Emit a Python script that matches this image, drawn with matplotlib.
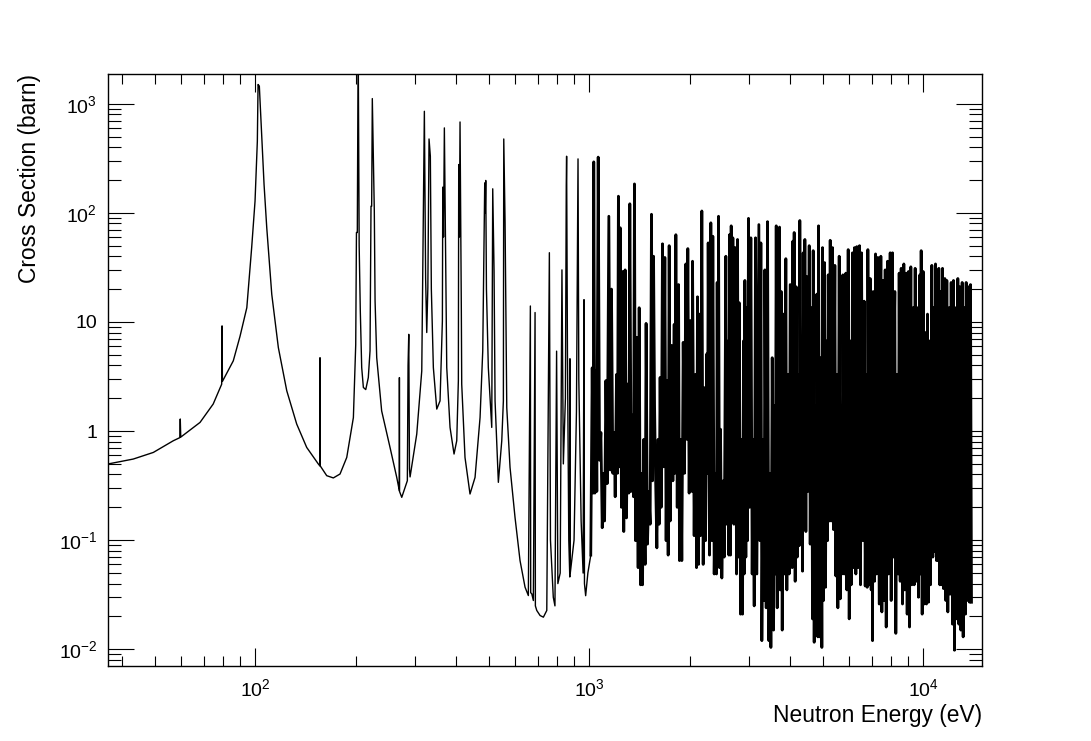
import matplotlib
matplotlib.use("Agg")
import matplotlib.pyplot as plt
import matplotlib.ticker as mticker
import numpy as np

plt.rcParams['font.family'] = ['Liberation Sans', 'DejaVu Sans']
plt.rcParams['mathtext.fontset'] = 'custom'
plt.rcParams['mathtext.rm'] = 'Liberation Sans'
plt.rcParams['mathtext.default'] = 'regular'

# resolved resonance region below 1 keV (eV, barn)
low_e = [36.3, 43.1, 49.5, 56.8, 59.4, 59.6, 59.8, 68.3, 74.8, 79.3,
         79.5, 79.7, 85.9, 90.0, 94.3, 97.5, 99.8, 101.4, 101.9, 102.8, 106.2,
         108.2, 112.0, 117.2, 124.2, 133.0, 142.5, 154.4, 156.0, 156.2, 156.4,
         163.6, 171.2, 179.3, 187.8, 196.6, 199.8, 200.8, 202.0, 203.2, 204.6,
         206.2, 208.2, 210.6, 214.1, 217.9, 220.5, 222.0, 223.0, 224.0, 227.1,
         228.3, 230.9, 238.9, 253.1, 265.1, 269.9, 270.0, 270.2, 274.4, 280.7,
         285.2, 286.6, 288.0, 289.4, 290.6, 304.3, 315.0, 317.1, 320.7, 323.5,
         326.0, 328.5, 331.2, 334.2, 336.5, 341.2, 349.3, 357.3, 363.1, 364.1,
         366.0, 368.1, 372.4, 374.2, 382.8, 393.5, 400.9, 405.4, 406.4, 408.3,
         410.1, 413.8, 414.9, 424.4, 439.3, 454.8, 470.8, 479.6, 486.2, 487.9,
         489.6, 492.0, 498.4, 510.3, 513.8, 518.5, 522.1, 534.1, 546.8, 552.9,
         554.4, 559.4, 566.0, 578.9, 599.1, 620.2, 642.0, 656.8, 666.0, 667.5,
         672.4, 679.9, 687.9, 689.4, 696.0, 712.1, 728.5, 745.8, 759.2, 765.0,
         780.0, 789.0, 798.0, 805.0, 818.0, 828.0, 836.0, 848.0, 853.0, 855.0,
         860.0, 868.0, 874.0, 875.0, 877.0, 900.0, 915.0, 923.0, 925.0, 930.0,
         945.0, 958.0, 964.0, 967.0, 975.0, 990.0]
low_xs = [0.50, 0.554, 0.637, 0.815, 0.87, 1.29, 0.88, 1.20, 1.77, 2.69,
          9.2, 2.85, 4.40, 7.4, 13.5, 47.8, 128, 453, 1500, 1450, 182,
          72.9, 17.9, 5.82, 2.34, 1.16, 0.708, 0.499, 0.48, 4.7, 0.48,
          0.390, 0.372, 0.404, 0.573, 1.33, 6.2, 66, 66, 4000, 50,
          12.6, 3.82, 2.51, 2.4, 3.09, 5.43, 115, 115, 1114, 104,
          15.6, 4.71, 1.53, 0.708, 0.376, 0.284, 3.09, 0.28, 0.247, 0.305,
          0.351, 4.0, 7.7, 0.45, 0.38, 0.939, 3.56, 28.9, 852, 25,
          8.0, 20.6, 475, 330, 20, 3.82, 1.59, 1.89, 10.2, 172,
          60, 600, 17.9, 3.82, 1.08, 0.616, 0.815, 2.89, 277, 60,
          680, 12.6, 2.69, 0.573, 0.265, 0.376, 1.33, 5.43, 188, 100,
          198, 20, 3.82, 1.08, 166, 29.3, 1.89, 0.339, 0.815, 1.89,
          475, 82, 1.64, 0.464, 0.162, 0.065, 0.0371, 0.0311, 14.0, 0.033,
          0.0323, 0.028, 12.2, 0.025, 0.0227, 0.0204, 0.0197, 0.0227, 43.1, 0.1,
          0.03, 0.025, 5.4, 0.04, 0.05, 30, 0.5, 2.0, 178, 330,
          5.0, 0.1, 0.046, 4.6, 0.05, 0.1, 1.5, 100, 312, 3.0,
          0.15, 0.05, 16, 0.04, 0.031, 0.05]

# dense region above 1 keV (eV, barn)
high_e = [1010, 1020, 1027, 1031, 1039, 1046, 1053, 1063, 1073, 1083,
          1093, 1103, 1111, 1121, 1131, 1144, 1155, 1165, 1176, 1187,
          1195, 1206, 1214, 1222, 1231, 1237, 1248, 1260, 1268, 1280,
          1292, 1304, 1313, 1322, 1334, 1346, 1356, 1365, 1375, 1388,
          1400, 1410, 1423, 1433, 1443, 1456, 1469, 1479, 1493, 1507,
          1521, 1535, 1546, 1557, 1568, 1578, 1593, 1607, 1618, 1629,
          1641, 1656, 1671, 1683, 1698, 1710, 1722, 1734, 1746, 1762,
          1779, 1795, 1803, 1816, 1833, 1850, 1862, 1879, 1892, 1910,
          1927, 1945, 1959, 1972, 1990, 2009,
          2028, 2037, 2060, 2079, 2094, 2108, 2123, 2137, 2152, 2172,
          2192, 2212, 2228, 2248, 2259, 2269, 2290, 2311, 2327, 2343,
          2365, 2387, 2403, 2414, 2426, 2437, 2454, 2470, 2493, 2517,
          2534, 2563, 2581, 2605, 2617, 2629, 2647, 2659, 2678, 2690,
          2709, 2734, 2759, 2778, 2797, 2810, 2836, 2855, 2875, 2895,
          2908, 2922, 2942, 2955, 2976, 2996, 3017, 3045, 3073, 3094,
          3116, 3145, 3174, 3218, 3240, 3263, 3285, 3315, 3338, 3354,
          3385, 3416, 3448, 3472, 3496, 3528, 3561, 3594, 3602, 3627,
          3652, 3677, 3694, 3711, 3728, 3754, 3780, 3815, 3841, 3876,
          3903, 3939, 3966, 3994,
          4049, 4068, 4086, 4105, 4133, 4163, 4192, 4220, 4249, 4268,
          4298, 4328, 4348, 4368, 4398, 4419, 4450, 4480, 4511, 4553,
          4584, 4626, 4658, 4680, 4712, 4745, 4778, 4800, 4833, 4856,
          4900, 4934, 4968, 4991, 5026, 5060, 5095, 5130, 5166, 5190,
          5238, 5262, 5298, 5347, 5384, 5434, 5472, 5510, 5548, 5599,
          5638, 5676, 5703, 5742, 5795, 5862, 5903, 5957, 5999, 6040,
          6082, 6138, 6181, 6223, 6281, 6324, 6383, 6442, 6486, 6531,
          6591, 6652, 6698, 6760, 6791, 6823, 6886, 6933, 6981, 7013,
          7046, 7078, 7144, 7193, 7243, 7309, 7377, 7462, 7514, 7584,
          7635, 7688, 7742, 7813, 7867, 7957,
          8011, 8085, 8141, 8179, 8217, 8273, 8349, 8407, 8466, 8525,
          8584, 8662, 8743, 8804, 8884, 8946, 9029, 9091, 9175, 9238,
          9324, 9388, 9452, 9518, 9606, 9673, 9762, 9807, 9852, 9920,
          9989, 10058, 10151, 10221, 10292, 10363, 10435, 10508, 10604, 10678,
          10752, 10801, 10875, 10951, 11027, 11077, 11128, 11205, 11283, 11361,
          11413, 11492, 11598, 11678, 11759, 11840, 11950, 12032, 12116, 12228,
          12312, 12397, 12512, 12598, 12686, 12774, 12862, 12951, 13070, 13160,
          13282, 13374, 13436, 13561, 13654, 13749, 13843, 13939]
high_xs = [0.073, 3.8, 0.27, 293, 0.27, 3.6, 0.28, 324, 0.54, 0.97,
           0.13, 0.41, 0.15, 2.9, 0.33, 93, 0.44, 20, 0.41, 0.97,
           0.25, 3.3, 0.41, 142, 0.47, 73, 0.2, 29, 0.12, 30,
           0.16, 2.7, 0.27, 121, 0.28, 1.4, 0.25, 184, 0.099, 7.2,
           0.056, 13.5, 0.039, 0.41, 0.039, 0.84, 0.06, 9.7, 0.092, 0.28,
           0.14, 97, 0.35, 40, 1.7, 0.41, 0.085, 0.84, 0.14, 3.1,
           0.2, 52, 0.47, 39, 0.099, 2.9, 0.073, 50, 0.15, 6.1,
           0.35, 9.5, 0.41, 63, 0.2, 22, 0.065, 0.84, 0.065, 6.5,
           0.41, 34, 0.84, 47, 0.27, 10.3,
           0.28, 36, 0.11, 3.3, 0.056, 17, 0.06, 11.8, 0.11, 104,
           0.06, 2.5, 0.099, 5.1, 0.41, 53, 0.073, 81, 0.099, 61,
           0.049, 0.41, 0.049, 23, 0.14, 93, 0.056, 1.04, 0.045, 0.35,
           0.07, 40, 0.14, 6.7, 0.073, 63, 0.073, 76, 0.2, 59,
           0.14, 48, 0.049, 57, 0.07, 15, 0.021, 0.84, 0.021, 6.7,
           0.049, 24, 0.07, 13.5, 0.099, 89, 0.2, 59, 0.049, 0.84,
           0.025, 59, 0.049, 78, 0.099, 53, 0.012, 0.84, 0.028, 30,
           0.024, 83, 0.012, 0.41, 0.0104, 4.7, 0.015, 1.7, 0.049, 76,
           0.024, 6.7, 0.049, 74, 0.035, 19, 0.015, 11.8, 0.049, 38,
           0.035, 3.3, 0.049, 22,
           0.056, 55, 0.2, 66, 0.042, 21, 0.07, 3.3, 0.089, 85,
           0.2, 6.7, 0.052, 43, 0.14, 57, 0.12, 26, 0.28, 50,
           0.092, 13.5, 0.019, 45, 0.0116, 1.7, 0.028, 18, 0.013, 76,
           0.013, 4.7, 0.0104, 48, 0.028, 35, 0.037, 6.7, 0.099, 27,
           0.15, 56, 0.15, 48, 0.125, 33, 0.047, 3.3, 0.024, 40,
           0.029, 1.7, 0.049, 27, 0.049, 28, 0.035, 46, 0.019, 6.7,
           0.039, 43, 0.056, 48, 0.049, 49, 0.056, 50, 0.039, 43,
           0.099, 15.5, 0.038, 3.3, 0.037, 46, 0.039, 25, 0.035, 6.7,
           0.012, 19, 0.042, 42, 0.049, 39, 0.026, 40, 0.022, 24,
           0.028, 30, 0.016, 36, 0.049, 43,
           0.028, 43, 0.07, 6.7, 19, 0.014, 3.3, 0.049, 28, 0.042,
           31, 0.026, 34, 0.035, 28, 0.021, 29, 0.016, 32, 0.039,
           13.5, 0.039, 31, 0.042, 13.5, 0.030, 27, 0.049, 45, 0.021,
           29, 0.026, 8.0, 0.026, 11.8, 0.027, 6.7, 0.039, 33, 0.07,
           13.5, 0.079, 34, 0.065, 13.5, 0.065, 31, 0.039, 19, 0.039,
           31, 0.036, 25, 0.028, 24, 0.022, 13.5, 0.032, 23, 0.017,
           24, 0.0098, 13.5, 0.019, 25, 0.017, 21, 0.015, 23, 0.013,
           13.5, 0.021, 23, 0.028, 21, 0.027, 22, 0.027]


def pow_label(v, pos):
    e = int(round(np.log10(v)))
    if e == 0:
        return '1'
    if e == 1:
        return '10'
    return r'$10^{%d}$' % e


fig = plt.figure(figsize=(10.91, 7.41), dpi=100)
ax = fig.add_axes([0.0993, 0.1012, 0.8011, 0.7989])
# thin line for the resolved peaks, heavier one where the resonances crowd together
ax.plot(low_e + high_e[:1], low_xs + high_xs[:1], color='black', lw=1.0)
ax.plot(high_e, high_xs, color='black', lw=2.0)

ax.set_xscale('log')
ax.set_yscale('log')
ax.set_xlim(36.3, 15020)
ax.set_ylim(0.00703, 1870)

for axis in (ax.xaxis, ax.yaxis):
    axis.set_major_locator(mticker.LogLocator(base=10, numticks=20))
    axis.set_minor_locator(mticker.LogLocator(base=10, subs=np.arange(2, 10), numticks=20))
    axis.set_major_formatter(mticker.FuncFormatter(pow_label))
    axis.set_minor_formatter(mticker.NullFormatter())

ax.tick_params(which='both', direction='in', top=True, right=True,
               labelsize=14, width=0.8, color='black')
ax.tick_params(axis='y', which='major', length=19, pad=8)
ax.tick_params(axis='y', which='minor', length=9.5)
ax.tick_params(axis='x', which='major', length=13, pad=9)
ax.tick_params(axis='x', which='minor', length=7.2)
for sp in ax.spines.values():
    sp.set_linewidth(1.0)

ax.set_xlabel('Neutron Energy (eV)', fontsize=16.4, ha='right', va='baseline')
ax.xaxis.set_label_coords(1.0, -0.0946)
ax.set_ylabel('Cross Section (barn)', fontsize=16.4, ha='right', va='center')
ax.yaxis.set_label_coords(-0.0907, 1.0)

fig.savefig('out.png', dpi=100)
